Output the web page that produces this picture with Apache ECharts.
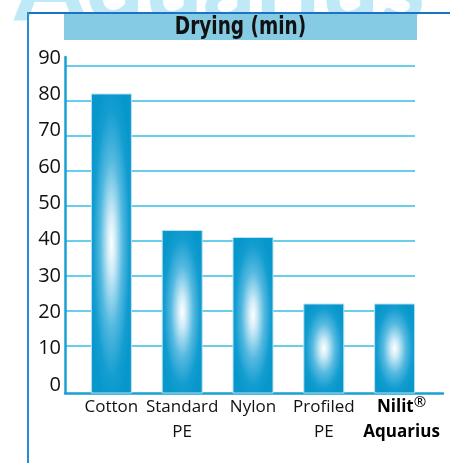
<!DOCTYPE html>
<html>
<head>
<meta charset="utf-8">
<script src="https://cdn.jsdelivr.net/npm/echarts@6/dist/echarts.min.js"></script>
<style>html,body{margin:0;padding:0;background:#fff;}#c{width:450px;height:463px;}</style>
</head>
<body>
<div id="c"></div>
<script>
// ---- data ----
const categories = ['Cotton', 'Standard\nPE', 'Nylon', 'Profiled\nPE', 'Nilit®\nAquarius'];
const dryingMinutes = [82, 43, 41, 22, 22];
const yTicks = [0, 10, 20, 30, 40, 50, 60, 70, 80, 90];
const titleText = 'Drying (min)';
const watermarkText = 'Aquarius';

const yMax = 90;
const yStep = 10;
const barBaseValue = -3.43; // axis baseline sits a little below zero in the original

const chart = echarts.init(document.getElementById('c'), null, {renderer: 'canvas'});

const labelFont = '"Open Sans", "Noto Sans", sans-serif';

function barItem(params, api) {
  const i = api.value(0);
  const v = api.value(1);
  const top = api.coord([i, v]);
  const base = api.coord([i, barBaseValue]);
  const w = 40;
  const x = top[0] - w / 2;
  const h = base[1] - top[1];
  const k = h / w;
  return {
    type: 'group',
    children: [
      {
        type: 'rect',
        x: x, y: top[1], scaleY: k,
        shape: {x: 0, y: 0, width: w, height: w},
        style: {
          fill: new echarts.graphic.RadialGradient(0.5, 0.5, 0.56, [
            {offset: 0, color: '#ffffff'},
            {offset: 0.18, color: '#cdebf7'},
            {offset: 0.5, color: '#55b9e0'},
            {offset: 0.8, color: '#139dd0'},
            {offset: 1, color: '#0897cb'}
          ])
        }
      },
      {
        type: 'rect',
        shape: {x: x, y: top[1], width: w, height: h},
        style: {fill: 'none', stroke: '#b9e2f1', lineWidth: 1}
      }
    ]
  };
}

const hiddenAxis = {
  axisLine: {show: false}, axisTick: {show: false},
  axisLabel: {show: false}, splitLine: {show: false}
};

const option = {
  backgroundColor: '#ffffff',
  animation: false,
  grid: [
    // 0: bars and category labels
    {left: 76, right: 20, top: 66, bottom: 70},
    // 1: horizontal gridlines
    {left: 65, right: 35, top: 66, bottom: 82},
    // 2: y tick labels
    {left: 65, right: 35, top: 58, bottom: 78},
    // 3: axis lines
    {left: 65, right: 7, top: 57, bottom: 70}
  ],
  xAxis: [
    {
      gridIndex: 0, type: 'category', data: categories,
      axisLine: {show: false}, axisTick: {show: false}, splitLine: {show: false},
      axisLabel: {
        interval: 0, margin: 2, fontSize: 17, lineHeight: 25,
        color: '#111', fontFamily: labelFont,
        formatter: function (val) {
          if (val.indexOf('Nilit') === 0) {
            return '{b|Nilit}{sup|®}\n{b2|Aquarius}';
          }
          return val;
        },
        rich: {
          b: {fontWeight: 'bold', fontSize: 17, lineHeight: 25, color: '#000', fontFamily: labelFont, padding: [0, 0, 0, 14]},
          b2: {fontWeight: 'bold', fontSize: 17, lineHeight: 25, color: '#000', fontFamily: labelFont, padding: [0, 0, 0, 14]},
          sup: {fontSize: 15, lineHeight: 25, verticalAlign: 'top', color: '#000', fontFamily: labelFont, padding: [0, 0, 6, 0]}
        }
      }
    },
    Object.assign({gridIndex: 1, type: 'value', min: 0, max: 1}, hiddenAxis),
    Object.assign({gridIndex: 2, type: 'value', min: 0, max: 1}, hiddenAxis),
    {
      gridIndex: 3, type: 'value', min: 0, max: 1,
      axisLine: {show: true, lineStyle: {color: '#1aa0d3', width: 2.5}},
      axisTick: {show: false}, axisLabel: {show: false}, splitLine: {show: false}
    }
  ],
  yAxis: [
    Object.assign({gridIndex: 0, type: 'value', min: barBaseValue, max: yMax}, hiddenAxis),
    {
      gridIndex: 1, type: 'value', min: yTicks[0], max: yMax, interval: yStep,
      axisLine: {show: false}, axisTick: {show: false}, axisLabel: {show: false},
      splitLine: {show: true, showMinLine: false, lineStyle: {color: '#37bde6', width: 1.5}}
    },
    {
      gridIndex: 2, type: 'value', min: yTicks[0], max: yMax, interval: yStep,
      axisLine: {show: false}, axisTick: {show: false}, splitLine: {show: false},
      axisLabel: {show: true, margin: 4, fontSize: 20, color: '#111', fontFamily: labelFont}
    },
    {
      gridIndex: 3, type: 'value', min: 0, max: 1,
      axisLine: {show: true, lineStyle: {color: '#1aa0d3', width: 2.5}},
      axisTick: {show: false}, axisLabel: {show: false}, splitLine: {show: false}
    }
  ],
  series: [
    {
      type: 'custom',
      xAxisIndex: 0, yAxisIndex: 0,
      renderItem: barItem,
      data: dryingMinutes.map(function (v, i) { return [i, v]; }),
      z: 3
    }
  ],
  graphic: [
    {
      type: 'text', left: 14, top: -66, z: -10, silent: true,
      style: {text: watermarkText, fontSize: 104, fontWeight: 'bold', fontFamily: 'Lato, "Open Sans", sans-serif', fill: '#bfe9f7'}
    },
    {
      type: 'rect', z: 1, silent: true,
      shape: {x: 64, y: 13, width: 353, height: 27},
      style: {fill: '#86cbe4'}
    },
    {
      type: 'text', z: 2, silent: true, x: 240.5, y: 27.5, scaleX: 0.74,
      style: {text: titleText, align: 'center', verticalAlign: 'middle', fontSize: 25, fontWeight: 'bold',
        fontFamily: '"DejaVu Sans", sans-serif', fill: '#111'}
    },
    {
      type: 'line', z: 5, silent: true,
      shape: {x1: 28, y1: 13, x2: 450, y2: 13},
      style: {stroke: '#1c73c3', lineWidth: 2}
    },
    {
      type: 'line', z: 5, silent: true,
      shape: {x1: 28, y1: 12, x2: 28, y2: 463},
      style: {stroke: '#2a8ed6', lineWidth: 2}
    }
  ]
};

chart.setOption(option);
</script>
</body>
</html>
